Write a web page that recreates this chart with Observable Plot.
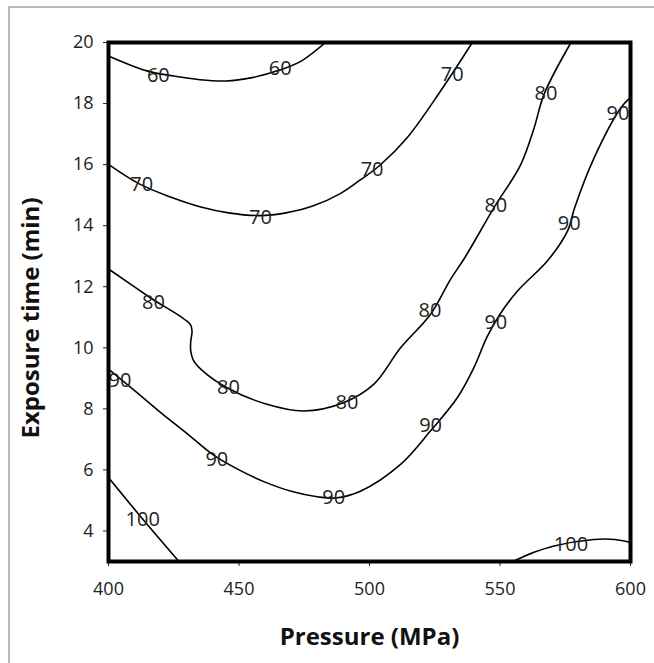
<!DOCTYPE html>
<html><head><meta charset="utf-8">
<script src="https://cdn.jsdelivr.net/npm/d3@7"></script>
<script src="https://cdn.jsdelivr.net/npm/@observablehq/plot@0.6"></script>
<style>
html,body{margin:0;padding:0;background:#fff;}
#wrap{position:relative;width:654px;height:663px;overflow:hidden;}
#border{position:absolute;left:8px;top:6px;right:-10px;bottom:-10px;border-top:2px solid #b8b8b8;border-left:2px solid #b8b8b8;}
#chart{position:absolute;left:0;top:0;}
</style></head><body>
<div id="wrap"><div id="border"></div><div id="chart"></div></div>
<script>
// Axis ticks
const pressureTicks = [400, 450, 500, 550, 600];
const timeTicks = [4, 6, 8, 10, 12, 14, 16, 18, 20];
const xTitle = "Pressure (MPa)";
const yTitle = "Exposure time (min)";

// Contour lines: [pressure (MPa), exposure time (min)]
const contour60 = [[400,19.56],[414.7,19.07],[425,18.9],[435,18.78],[445,18.74],[455,18.85],[465,19.08],[474,19.4],[483.1,20]];
const contour70 = [[400,16.01],[412,15.36],[424,14.93],[435,14.62],[446,14.42],[458,14.33],[468,14.42],[478.5,14.65],[488.8,15.05],[496.5,15.5],[504,15.98],[514.5,16.89],[527.3,18.42],[539.4,20]];
const contour80 = [[400,12.58],[416,11.64],[431.3,10.77],[432,10.55],[431.5,10.2],[431.5,9.9],[432.5,9.6],[436,9.25],[445.4,8.69],[460.7,8.15],[474.8,7.93],[490,8.2],[501.7,8.81],[511.9,10.0],[523.4,11.1],[531.1,12.25],[536.5,12.95],[547.7,14.59],[558,16.01],[563.1,17.21],[566.9,18.31],[577.2,20]];
const contour90 = [[400,9.3],[410,8.6],[420,7.88],[430,7.2],[440,6.5],[450,6.0],[460,5.6],[470,5.3],[480,5.12],[487,5.08],[496.5,5.3],[511.9,6.18],[523.4,7.28],[533.7,8.37],[540,9.35],[545,10.35],[550,11.1],[556.7,11.86],[568.2,12.85],[575.9,13.83],[578.6,14.59],[586.1,16.23],[596.4,17.87],[600,18.2]];
const contour100a = [[400,5.75],[413,4.4],[427,3.0]];
const contour100b = [[555,3],[563,3.3],[570.7,3.51],[586,3.72],[594,3.72],[600,3.62]];

// Contour labels
const labelText = ["60","60","70","70","70","70","80","80","80","80","80","80","90","90","90","90","90","90","90","100","100"];
const labelPressure = [419.1,465.8, 412.7,458.2,501,531.7, 417.2,446,491.4,523.2,548.4,567.6, 404.4,441.5,486.3,523.4,548.4,576.5,595.2, 413.1,577.2];
const labelTime = [18.91,19.13, 15.36,14.26,15.85,18.96, 11.48,8.69,8.2,11.21,14.65,18.33, 8.91,6.35,5.09,7.44,10.83,14.07,17.68, 4.38,3.56];

const series = [["60", contour60], ["70", contour70], ["80", contour80], ["90", contour90], ["100a", contour100a], ["100b", contour100b]];
const rows = series.flatMap(([id, pts]) => pts.map(([x, y]) => ({id, x, y})));
const labels = labelText.map((t, i) => ({t, x: labelPressure[i], y: labelTime[i]}));

const chart = Plot.plot({
  width: 654, height: 663,
  marginLeft: 108, marginRight: 24, marginTop: 42, marginBottom: 102,
  x: {domain: [400, 600], ticks: pressureTicks, tickSize: 5, tickPadding: 16, label: null},
  y: {domain: [3, 20], ticks: timeTicks, tickSize: 5, tickPadding: 10, label: null},
  style: {fontFamily: "Open Sans", fontSize: "18px", color: "#222", background: "transparent"},
  marks: [
    Plot.line(rows, {x: "x", y: "y", z: "id", curve: "catmull-rom", stroke: "#000", strokeWidth: 1.6, clip: true}),
    Plot.text(labels, {x: "x", y: "y", text: "t", fontSize: 20, fill: "#222"}),
    Plot.frame({stroke: "#000", strokeWidth: 4}),
    Plot.text([yTitle], {text: d => d, frameAnchor: "left", textAnchor: "middle", lineAnchor: "middle", dx: -77, dy: 16, rotate: -90, fontSize: 24, fontWeight: "bold", fill: "#111"}),
    Plot.text([xTitle], {text: d => d, frameAnchor: "bottom", textAnchor: "middle", lineAnchor: "middle", dy: 76, fontSize: 24, fontWeight: "bold", fill: "#111"})
  ]
});
document.getElementById("chart").appendChild(chart);
</script>
</body></html>
